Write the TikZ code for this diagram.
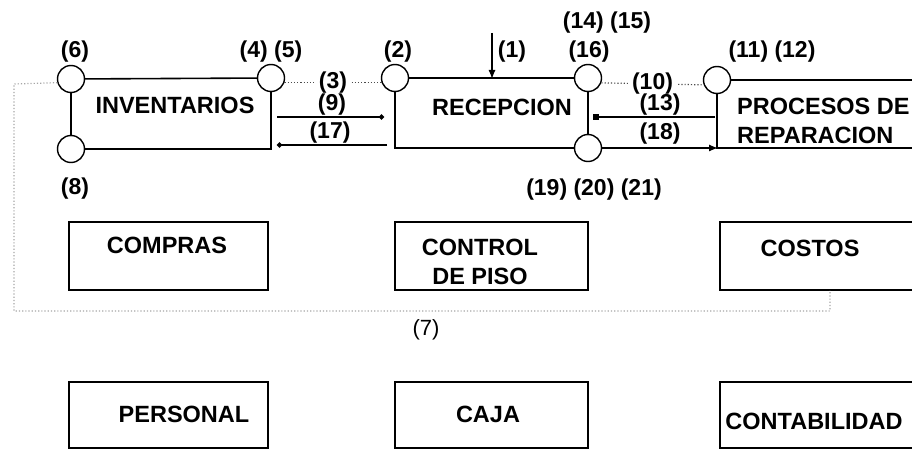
\documentclass[tikz,border=0pt]{standalone}
\usepackage{fontspec}
\setmainfont{Liberation Sans}
\usetikzlibrary{arrows.meta}
\begin{document}
\begin{tikzpicture}[x=1pt,y=-1pt,
  port/.style={circle,draw,line width=1.4pt,fill=white,minimum size=27pt,inner sep=0pt},
  edge/.style={line width=1.6pt},
  boxframe/.style={draw,line width=1.5pt,rectangle,inner sep=0pt},
  lbl/.style={font=\fontsize{23}{26}\selectfont\bfseries,inner sep=0pt,text=black},
  txt/.style={font=\fontsize{23.5}{29}\selectfont\bfseries,inner sep=0pt},
  flow/.style={line width=1.3pt},
  dots/.style={dotted,line width=1.2pt,black!70},
  faint/.style={dotted,line width=1.2pt,black!35},
]
\useasboundingbox (0,0) rectangle (912,449);
\clip (0,0) rectangle (912,449);

% lower boxes
\node[boxframe,minimum width=199pt,minimum height=68pt] (compras) at (168.5,256) {};
\node[boxframe,minimum width=193pt,minimum height=68pt] (control) at (491.5,256) {};
\node[boxframe,minimum width=290pt,minimum height=68pt] (costos) at (865,256) {};
\node[boxframe,minimum width=199pt,minimum height=66pt] (personal) at (168.5,415) {};
\node[boxframe,minimum width=193pt,minimum height=66pt] (caja) at (491.5,415) {};
\node[boxframe,minimum width=290pt,minimum height=66pt] (contab) at (865,415) {};

\node[txt] (tcompras) at (167,245) {COMPRAS};
\node[txt,align=center] (tcontrol) at (480,262) {CONTROL\\DE PISO};
\node[txt] (tcostos) at (810,248) {COSTOS};
\node[txt] (tpersonal) at (184,414) {PERSONAL};
\node[txt] (tcaja) at (488,414) {CAJA};
\node[txt] (tcontab) at (814,421) {CONTABILIDAD};

% ports
\node[port] (c6) at (71,79) {};
\node[port] (c8) at (71,149) {};
\node[port] (c45) at (271,78) {};
\node[port] (c2) at (395,78) {};
\node[port] (c16) at (588,78) {};
\node[port] (c19) at (588,148) {};
\node[port] (c11) at (717,80) {};

% free ends
\coordinate (prt) at (1000,80);
\coordinate (prb) at (1000,148);
\coordinate (a9s) at (277,117);
\coordinate (a9e) at (384,117);
\coordinate (a17s) at (387,145);
\coordinate (a17e) at (277,145);
\coordinate (a1s) at (492,33);
\coordinate (a1e) at (492,79);
\coordinate (a13s) at (715,117);
\coordinate (a13e) at (593,117);
\coordinate (a18e) at (718,148);
\coordinate (lpA) at (14,84);
\coordinate (lpB) at (14,311);
\coordinate (lpC) at (830,311);
\coordinate (lpD) at (830,290);

% frames of the upper boxes
\draw[edge] (c6) -- (c45);
\draw[edge] (c6) -- (c8);
\draw[edge] (c45) |- (c8);
\draw[edge] (c2) -- (c16);
\draw[edge] (c2) |- (c19);
\draw[line width=2.4pt] (c16) -- (c19);
\draw[edge] (c11) -- (prt);
\draw[edge] (c11) |- (prb);

\node[txt] (tinv) at (175,105) {INVENTARIOS};
\node[txt] (trec) at (502,107) {RECEPCION};
\node[txt,align=left,anchor=west] (tproc) at (737,121) {PROCESOS DE\\REPARACION};

% dotted links
\draw[dots] (c45.-20) -- node[lbl,fill=white,inner xsep=4pt] (l3) {(3)} (c2.200);
\draw[dots] (c16.-20) -- node[lbl,fill=white,inner xsep=4pt] (l10) {(10)} (c11.200);
\draw[faint] (c6.195) -- (lpA) -- (lpB) -- (lpC) -- (lpD);

% flows
\draw[flow,-{Circle[length=5pt]}] (a9s) -- (a9e);
\draw[flow,-{Circle[length=5pt]}] (a17s) -- (a17e);
\draw[flow,-{Latex[length=9pt,width=7pt]}] (a1s) -- (a1e);
\draw[flow,-{Square[length=6pt,width=6pt]}] (a13s) -- (a13e);
\draw[flow,-{Latex[length=9pt,width=7pt]}] (c19) -- (a18e);

% labels
\node[lbl] (l6) at (75,52) {(6)};
\node[lbl] (l45) at (271,52) {(4) (5)};
\node[lbl] (l2) at (398,52) {(2)};
\node[lbl] (l1) at (512,52) {(1)};
\node[lbl] (l1415) at (607,23) {(14) (15)};
\node[lbl] (l16) at (589,52) {(16)};
\node[lbl] (l1112) at (772,52) {(11) (12)};
\node[lbl] (l9) at (332,105) {(9)};
\node[lbl] (l17) at (330,133) {(17)};
\node[lbl] (l13) at (660,105) {(13)};
\node[lbl] (l18) at (660,134) {(18)};
\node[lbl] (l8) at (75,189) {(8)};
\node[lbl] (l192021) at (594,190) {(19) (20) (21)};
\node[lbl,font=\fontsize{22}{24}\selectfont] (l7) at (426,330) {(7)};
\end{tikzpicture}
\end{document}
